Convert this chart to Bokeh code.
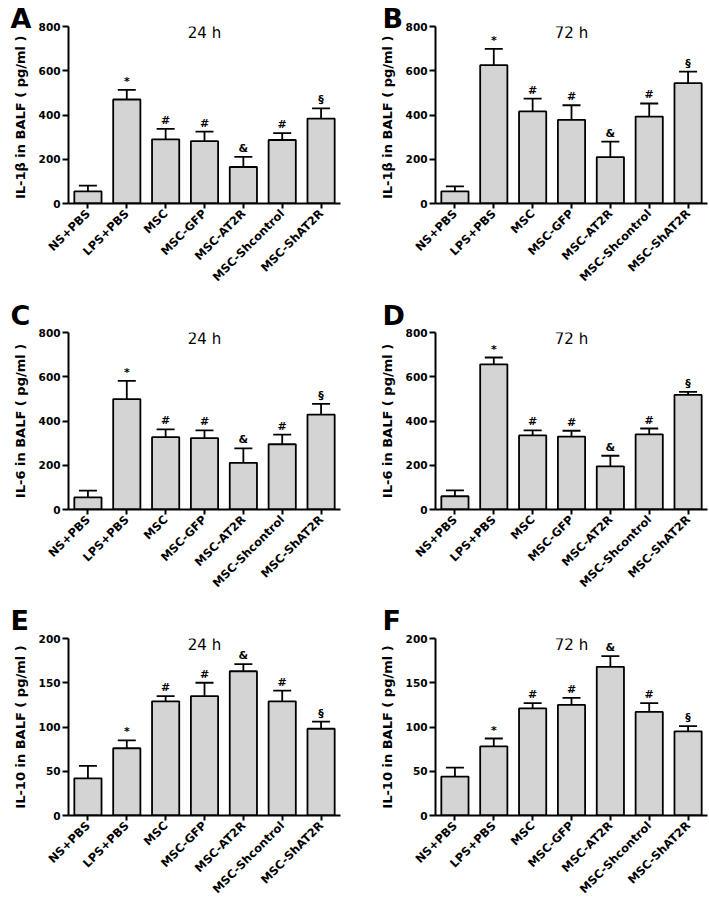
from bokeh.plotting import figure
from bokeh.models import (ColumnDataSource, FactorRange, Range1d, FixedTicker,
                          Whisker, TeeHead, Label, Title)
from bokeh.layouts import column, row
from bokeh.core.properties import value
from bokeh.embed import file_html
from bokeh.resources import INLINE
from math import pi

# ---------------- data ----------------
groups = ["NS+PBS", "LPS+PBS", "MSC", "MSC-GFP", "MSC-AT2R", "MSC-Shcontrol", "MSC-ShAT2R"]
marks = ["", "*", "#", "#", "&", "#", "§"]

il1b_24h_mean = [55, 470, 290, 282, 165, 287, 384]
il1b_24h_sem = [26, 44, 47, 43, 46, 31, 46]
il1b_72h_mean = [55, 625, 416, 378, 210, 393, 544]
il1b_72h_sem = [22, 74, 58, 66, 70, 59, 52]

il6_24h_mean = [55, 499, 327, 323, 211, 295, 429]
il6_24h_sem = [30, 82, 35, 35, 65, 43, 48]
il6_72h_mean = [60, 656, 335, 329, 195, 340, 518]
il6_72h_sem = [26, 31, 23, 27, 48, 26, 14]

il10_24h_mean = [42, 76, 129, 135, 163, 129, 98]
il10_24h_sem = [14, 9, 6, 15, 8, 12, 8]
il10_72h_mean = [44, 78, 121, 125, 168, 117, 95]
il10_72h_sem = [10, 9, 6, 8, 12, 10, 6]

ticks_high = [0, 200, 400, 600, 800]
ticks_low = [0, 50, 100, 150, 200]

label_il1b = "IL-1β  in BALF ( pg/ml )"
label_il6 = "IL-6 in BALF ( pg/ml )"
label_il10 = "IL-10 in BALF ( pg/ml )"

FONT = "DejaVu Sans"
FW, FH = 272, 177


def panel(letter, title, ylabel, means, sems, ticks, top, bottom, right,
          letter_standoff, letter_offset):
    upper = [m + s for m, s in zip(means, sems)]
    src = ColumnDataSource(dict(cats=groups, mean=means, upper=upper, marks=marks))
    p = figure(x_range=FactorRange(factors=groups, range_padding=0),
               y_range=Range1d(ticks[0], ticks[-1]),
               frame_width=FW, frame_height=FH,
               min_border_top=top, min_border_bottom=bottom,
               min_border_left=68, min_border_right=right,
               output_backend="svg", toolbar_location=None,
               background_fill_color="white", border_fill_color="white")
    p.outline_line_color = None
    p.xgrid.visible = False
    p.ygrid.visible = False

    p.vbar(x="cats", top="mean", bottom=0, width=0.7, source=src,
           fill_color="#d4d4d4", line_color="black", line_width=1.8)
    w = Whisker(base="cats", upper="upper", lower="mean", source=src,
                dimension="height", line_color="black", line_width=1.8,
                upper_head=TeeHead(size=18, line_color="black", line_width=1.8),
                lower_head=None)
    p.add_layout(w)
    p.text(x="cats", y="upper", text="marks", source=src,
           text_align="center", text_baseline="bottom", y_offset=-2,
           text_font=value(FONT), text_font_size="11px",
           text_font_style="bold", text_color="black")

    # axes
    for ax in (p.xaxis[0], p.yaxis[0]):
        ax.axis_line_width = 2
        ax.axis_line_color = "black"
        ax.major_tick_line_width = 2
        ax.major_tick_line_color = "black"
        ax.major_tick_in = 0
        ax.minor_tick_line_color = None
        ax.major_label_text_font = FONT
        ax.major_label_text_font_style = "bold"
        ax.major_label_text_color = "black"
    p.yaxis.ticker = FixedTicker(ticks=ticks)
    p.yaxis.major_tick_out = 6
    p.yaxis.major_label_text_font_size = "10.5px"
    p.yaxis.major_label_standoff = 2
    p.yaxis.axis_label = ylabel
    p.yaxis.axis_label_text_font = FONT
    p.yaxis.axis_label_text_font_size = "13px"
    p.yaxis.axis_label_text_font_style = "bold"
    p.yaxis.axis_label_text_color = "black"
    p.yaxis.axis_label_standoff = 8
    p.xaxis.major_tick_out = 5
    p.xaxis.major_label_orientation = pi / 4
    p.xaxis.major_label_text_font_size = "11.5px"
    p.xaxis.major_label_standoff = 3

    p.add_layout(Label(x=FW / 2, y=FH + 3, x_units="screen", y_units="screen",
                       text=title, text_align="center", text_baseline="top",
                       text_font=FONT, text_font_size="15px",
                       text_color="black"))
    p.add_layout(Title(text=letter, align="left", offset=letter_offset,
                       standoff=letter_standoff, text_font=FONT,
                       text_font_size="27px", text_font_style="bold",
                       text_color="black"), "above")
    return p


pA = panel("A", "24 h", label_il1b, il1b_24h_mean, il1b_24h_sem, ticks_high, 26, 90, 27, -14, -58)
pB = panel("B", "72 h", label_il1b, il1b_72h_mean, il1b_72h_sem, ticks_high, 26, 90, 1, -14, -53)
pC = panel("C", "24 h", label_il6, il6_24h_mean, il6_24h_sem, ticks_high, 39, 90, 27, 3, -58)
pD = panel("D", "72 h", label_il6, il6_72h_mean, il6_72h_sem, ticks_high, 39, 90, 1, 3, -53)
pE = panel("E", "24 h", label_il10, il10_24h_mean, il10_24h_sem, ticks_low, 39, 90, 27, 6, -58)
pF = panel("F", "72 h", label_il10, il10_72h_mean, il10_72h_sem, ticks_low, 39, 90, 1, 6, -53)

layout = column(row(pA, pB), row(pC, pD), row(pE, pF))
open("out.html", "w").write(file_html(layout, INLINE))
